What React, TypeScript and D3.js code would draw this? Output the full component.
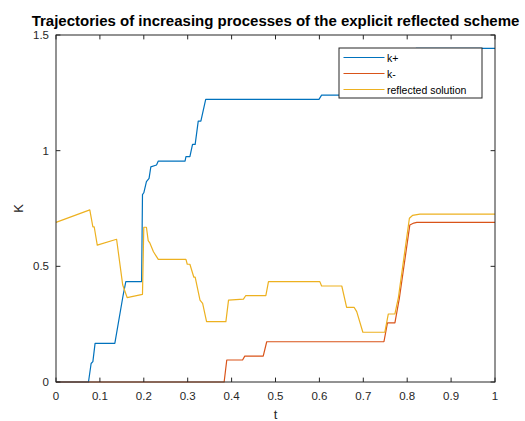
import React from 'react';
import * as d3 from 'd3';

// k+ (blue)
const tPlus = [0, 0.074, 0.08, 0.084, 0.089, 0.134, 0.153, 0.159, 0.195, 0.197, 0.2, 0.206, 0.212, 0.216, 0.229, 0.233, 0.294, 0.296, 0.305, 0.311, 0.317, 0.324, 0.33, 0.341, 0.599, 0.605, 0.72, 0.76, 0.8, 0.82, 1];
const kPlus = [0, 0, 0.08, 0.088, 0.167, 0.167, 0.376, 0.434, 0.434, 0.81, 0.818, 0.866, 0.88, 0.93, 0.938, 0.955, 0.955, 0.974, 0.974, 1.027, 1.027, 1.128, 1.128, 1.222, 1.222, 1.24, 1.24, 1.3, 1.42, 1.442, 1.442];

// k- (orange)
const tMinus = [0, 0.383, 0.389, 0.425, 0.43, 0.472, 0.48, 0.747, 0.755, 0.772, 0.78, 0.782, 0.806, 0.815, 0.822, 1];
const kMinus = [0, 0, 0.095, 0.095, 0.112, 0.112, 0.174, 0.174, 0.256, 0.256, 0.34, 0.36, 0.679, 0.687, 0.69, 0.69];

// reflected solution (yellow)
const tRefl = [0, 0.077, 0.084, 0.087, 0.094, 0.138, 0.152, 0.162, 0.197, 0.2, 0.206, 0.21, 0.214, 0.222, 0.229, 0.233, 0.296, 0.299, 0.305, 0.314, 0.317, 0.328, 0.334, 0.343, 0.387, 0.393, 0.427, 0.432, 0.478, 0.484, 0.601, 0.605, 0.651, 0.662, 0.679, 0.685, 0.699, 0.749, 0.757, 0.772, 0.78, 0.805, 0.812, 0.829, 1];
const kRefl = [0.69, 0.744, 0.671, 0.671, 0.592, 0.617, 0.419, 0.365, 0.379, 0.669, 0.669, 0.611, 0.6, 0.563, 0.542, 0.53, 0.53, 0.509, 0.509, 0.453, 0.453, 0.354, 0.34, 0.261, 0.261, 0.354, 0.358, 0.373, 0.373, 0.434, 0.434, 0.415, 0.415, 0.323, 0.323, 0.304, 0.215, 0.215, 0.294, 0.294, 0.366, 0.708, 0.72, 0.726, 0.726];

const xTicks = [0, 0.1, 0.2, 0.3, 0.4, 0.5, 0.6, 0.7, 0.8, 0.9, 1];
const yTicks = [0, 0.5, 1, 1.5];
const seriesNames = ['k+', 'k-', 'reflected solution'];
const colors = ['#0072BD', '#D95319', '#EDB120'];

const W = 525;
const H = 421;
const M = { left: 56, right: 30, top: 35, bottom: 39 };
const FONT = '"Liberation Sans", Arial, Helvetica, sans-serif';
const AX = '#262626';

export default function App() {
  const x = d3.scaleLinear().domain([0, 1]).range([M.left, W - M.right]);
  const y = d3.scaleLinear().domain([0, 1.5]).range([H - M.bottom, M.top]);

  const series = [
    tPlus.map((t, i) => [t, kPlus[i]] as [number, number]),
    tMinus.map((t, i) => [t, kMinus[i]] as [number, number]),
    tRefl.map((t, i) => [t, kRefl[i]] as [number, number]),
  ];
  const line = d3.line<[number, number]>().x(d => x(d[0])).y(d => y(d[1]));

  const x0 = x(0), x1 = x(1), y0 = y(0), y1 = y(1.5);
  const tl = 4.4;
  const fmt = (v: number) => String(v);

  // legend box
  const lg = { x: 339, y: 48, w: 143, h: 50 };

  return (
    <svg width={W} height={H} style={{ position: 'absolute', left: 0, top: 0, background: '#fff' }}
      fontFamily={FONT}>
      <rect x={0} y={0} width={W} height={H} fill="#fff" />
      {series.map((s, i) => (
        <path key={i} d={line(s) ?? ''} fill="none" stroke={colors[i]} strokeWidth={1.2} strokeLinejoin="round" />
      ))}
      {/* box */}
      <rect x={x0} y={y1} width={x1 - x0} height={y0 - y1} fill="none" stroke={AX} strokeWidth={1} />
      {xTicks.map(v => (
        <g key={'x' + v}>
          <line x1={x(v)} x2={x(v)} y1={y0} y2={y0 - tl} stroke={AX} />
          <line x1={x(v)} x2={x(v)} y1={y1} y2={y1 + tl} stroke={AX} />
          <text x={x(v)} y={y0 + 18} textAnchor="middle" fontSize={11.5} fill={AX}>{fmt(v)}</text>
        </g>
      ))}
      {yTicks.map(v => (
        <g key={'y' + v}>
          <line x1={x0} x2={x0 + tl} y1={y(v)} y2={y(v)} stroke={AX} />
          <line x1={x1} x2={x1 - tl} y1={y(v)} y2={y(v)} stroke={AX} />
          <text x={x0 - 7} y={y(v) + 4} textAnchor="end" fontSize={11.5} fill={AX}>{fmt(v)}</text>
        </g>
      ))}
      <text x={(x0 + x1) / 2} y={419} textAnchor="middle" fontSize={13} fill={AX}>t</text>
      <text transform={`translate(23,${(y0 + y1) / 2}) rotate(-90)`} textAnchor="middle" fontSize={13} fill={AX}>K</text>
      <text x={(x0 + x1) / 2} y={26} textAnchor="middle" fontSize={15} fontWeight="bold" fill="#000">
        Trajectories of increasing processes of the explicit reflected scheme
      </text>
      {/* legend */}
      <rect x={lg.x} y={lg.y} width={lg.w} height={lg.h} fill="#fff" stroke={AX} strokeWidth={1} />
      {seriesNames.map((n, i) => (
        <g key={n}>
          <line x1={343.5} x2={384.5} y1={57.5 + i * 16} y2={57.5 + i * 16} stroke={colors[i]} strokeWidth={1.2} />
          <text x={387} y={61.5 + i * 16} fontSize={10.5} fill="#000">{n}</text>
        </g>
      ))}
    </svg>
  );
}
